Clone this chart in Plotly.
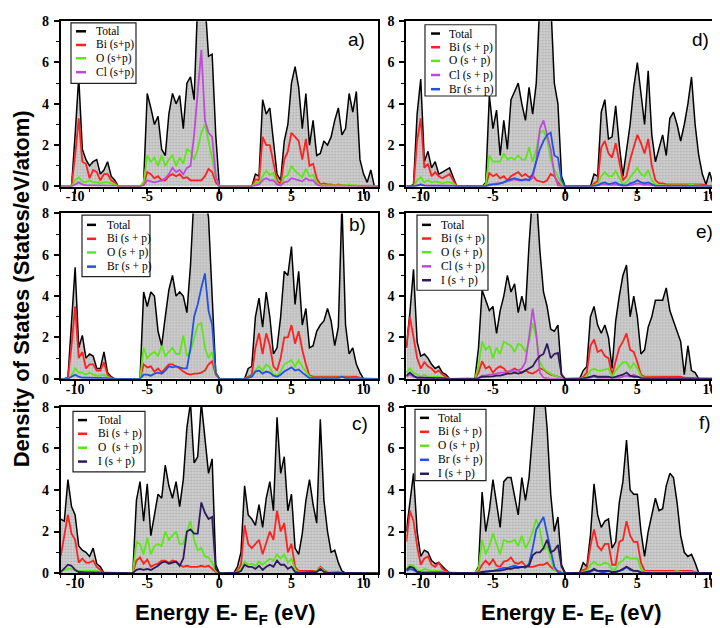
import plotly.graph_objects as go

# ---------------- data (energy grid -11 .. 11 eV, step 0.25) ----------------
N = 89
energy = [-11 + 0.25 * i for i in range(N)]

# each line = one eV: values at k, k+0.25, k+0.5, k+0.75 ; last value is E = 11
# ---- a) BiOCl
a_total = [0, 0, 0, 0,  2.5, 5.3, 1.8, 1.3,  1.0, 1.2, 1.3, 0.6,  0.8, 1.2, 0.5, 0.3,
           0, 0, 0, 0,  0, 0, 0, 0.2,  4.5, 3.8, 3.0, 3.4,  1.8, 1.5, 3.5, 4.5,
           4.0, 4.4, 2.8, 5.0,  5.3, 4.2, 9, 10,  9, 6.3, 6.4, 2.5,  0, 0, 0, 0,
           0, 0, 0, 0,  0, 0, 0.6, 0.5,  4.2, 3.5, 3.8, 2.3,  0.6, 0.3, 2.2, 3.0,
           5.0, 5.8, 4.8, 2.8,  4.5, 2.0, 3.2, 1.5,  1.6, 2.2, 2.0, 2.4,  3.2, 3.8, 2.5, 2.8,
           4.5, 3.6, 4.6, 1.3,  0.6, 0.2, 0.8, 0,  0]
a_bi = [0, 0, 0, 0,  1.5, 3.3, 1.2, 1.1,  0.4, 0.8, 0.7, 0.3,  0.6, 0.6, 0.3, 0.2,
        0, 0, 0, 0,  0, 0, 0, 0.1,  0.7, 0.6, 0.4, 0.5,  0.3, 0.3, 0.5, 0.6,
        0.5, 0.6, 0.4, 0.45,  0.3, 0.3, 0.3, 0.3,  0.5, 0.85, 0.7, 0.2,  0, 0, 0, 0,
        0, 0, 0, 0,  0, 0, 0.35, 0.3,  2.4, 2.0, 2.0, 1.2,  0.3, 0.1, 1.3, 1.7,
        2.6, 2.4, 2.2, 1.3,  2.3, 1.0, 1.1, 0.4,  0.1, 0.15, 0.1, 0.1,  0.05, 0.1, 0.05, 0.05,
        0.05, 0.05, 0.05, 0.02,  0, 0, 0, 0,  0]
a_o = [0, 0, 0, 0,  0.3, 0.45, 0.25, 0.2,  0.3, 0.2, 0.2, 0.15,  0.2, 0.2, 0.15, 0.1,
       0, 0, 0, 0,  0, 0, 0, 0.2,  1.5, 1.2, 1.4, 1.0,  1.5, 1.0, 1.3, 1.5,
       1.0, 1.4, 1.1, 1.8,  1.7, 1.3, 1.8, 2.6,  3.0, 2.2, 1.4, 0.5,  0, 0, 0, 0,
       0, 0, 0, 0,  0, 0, 0.15, 0.2,  0.5, 0.75, 0.55, 0.65,  0.15, 0.05, 0.45, 0.55,
       1.0, 0.75, 0.6, 0.45,  0.85, 0.5, 0.55, 0.2,  0.05, 0.05, 0.05, 0.05,  0.05, 0.05, 0.05, 0.05,
       0.1, 0.05, 0.05, 0.02,  0, 0, 0, 0,  0]
a_cl = [0, 0, 0, 0,  0.1, 0.2, 0.1, 0.05,  0.05, 0.05, 0.05, 0.05,  0.05, 0.05, 0.05, 0.03,
        0, 0, 0, 0,  0, 0, 0, 0.05,  0.3, 0.25, 0.2, 0.25,  0.3, 0.4, 0.6, 0.9,
        0.7, 0.8, 0.6, 0.9,  1.0, 2.5, 4.6, 6.6,  3.2, 2.6, 2.4, 0.5,  0, 0, 0, 0,
        0, 0, 0, 0,  0, 0, 0.05, 0.1,  0.3, 0.4, 0.3, 0.3,  0.1, 0.05, 0.2, 0.25,
        0.4, 0.35, 0.3, 0.25,  0.4, 0.3, 0.3, 0.1,  0.02, 0.02, 0.02, 0.02,  0.02, 0.02, 0.02, 0.02,
        0.02, 0.02, 0.02, 0.02,  0, 0, 0, 0,  0]

# ---- b) BiOBr
b_total = [0, 0, 0.05, 2.5,  5.4, 1.5, 2.1, 1.0,  1.2, 1.1, 0.5, 0.5,  1.3, 0.3, 0.1, 0,
           0, 0, 0, 0,  0, 0, 0, 4.2,  3.5, 4.2, 4.0, 2.3,  1.6, 3.0, 4.3, 5.0,
           4.0, 4.2, 4.0, 3.2,  5.5, 9, 10, 10,  9, 7.8, 4.0, 0.3,  0, 0, 0, 0,
           0, 0, 0, 0,  0.5, 0.6, 3.0, 3.9,  2.5, 4.2, 3.0, 1.2,  1.5, 3.0, 5.2, 5.0,
           6.4, 3.6, 5.2, 2.6,  3.4, 1.5, 1.6, 2.3,  2.6, 2.8, 3.4, 2.8,  1.6, 2.5, 8.5, 2.6,
           1.2, 1.5, 0.7, 0.3,  0, 0, 0, 0,  0]
b_bi = [0, 0, 0.05, 1.6,  3.5, 1.0, 1.3, 0.5,  0.7, 0.7, 0.4, 0.4,  0.8, 0.2, 0.05, 0,
        0, 0, 0, 0,  0, 0, 0, 0.7,  0.55, 0.6, 0.35, 0.5,  0.3, 0.5, 0.7, 0.7,
        0.6, 0.5, 0.35, 0.25,  0.2, 0.25, 0.25, 0.3,  0.4, 0.7, 0.85, 0.2,  0, 0, 0, 0,
        0, 0, 0, 0,  0.1, 0.2, 1.5, 2.2,  1.2, 2.2, 1.6, 0.6,  0.4, 1.0, 2.0, 2.0,
        2.6, 1.7, 2.3, 1.4,  0.7, 0.15, 0.1, 0.1,  0.1, 0.1, 0.1, 0.1,  0.1, 0.1, 0.1, 0.1,
        0.1, 0.1, 0.1, 0.05,  0, 0, 0, 0,  0]
b_o = [0, 0, 0, 0.15,  0.5, 0.3, 0.3, 0.2,  0.3, 0.2, 0.15, 0.15,  0.2, 0.1, 0, 0,
       0, 0, 0, 0,  0, 0, 0, 1.5,  1.0, 1.2, 1.3, 1.1,  1.6, 1.1, 1.3, 1.5,
       1.2, 1.2, 2.1, 1.1,  1.3, 2.0, 2.6, 2.7,  1.5, 1.0, 1.3, 0.3,  0, 0, 0, 0,
       0, 0, 0, 0,  0.05, 0.1, 0.4, 0.6,  0.4, 0.7, 0.55, 0.2,  0.15, 0.35, 0.7, 0.8,
       0.9, 0.6, 0.9, 0.6,  0.35, 0.1, 0.05, 0.05,  0.05, 0.05, 0.05, 0.05,  0.05, 0.05, 0.1, 0.05,
       0.05, 0.05, 0.05, 0.02,  0, 0, 0, 0,  0]
b_br = [0, 0, 0, 0.1,  0.2, 0.1, 0.05, 0.05,  0.05, 0.05, 0.05, 0.05,  0.05, 0.03, 0, 0,
        0, 0, 0, 0,  0, 0, 0, 0.2,  0.2, 0.15, 0.25, 0.3,  0.25, 0.4, 0.6, 0.55,
        0.6, 0.55, 0.5, 0.5,  1.5, 3.0, 3.6, 4.4,  5.1, 3.3, 2.6, 0.3,  0, 0, 0, 0,
        0, 0, 0, 0,  0.05, 0.1, 0.35, 0.4,  0.25, 0.35, 0.3, 0.15,  0.1, 0.2, 0.35, 0.45,
        0.55, 0.4, 0.45, 0.3,  0.15, 0.03, 0.03, 0.03,  0.03, 0.03, 0.03, 0.03,  0.03, 0.03, 0.1, 0.03,
        0.03, 0.03, 0.03, 0.03,  0, 0, 0, 0,  0]

# ---- c) BiOI
c_total = [2.6, 2.5, 4.5, 3.2,  2.8, 1.3, 1.1, 1.0,  0.8, 1.2, 0.45, 0.3,  0, 0, 0, 0,
           0, 0, 0, 0,  0, 3.5, 4.4, 2.5,  4.3, 1.8, 2.8, 3.8,  3.6, 5.2, 4.2, 3.6,
           4.4, 3.2, 4.5, 7.0,  8.2, 5.3, 5.6, 8.2,  6.5, 4.8, 5.5, 0.4,  0, 0, 0, 0,
           0, 0.3, 1.0, 4.2,  2.8, 2.6, 2.3, 3.3,  2.2, 3.6, 4.4, 3.0,  7.5, 4.8, 5.6, 3.0,
           3.8, 1.2, 0.9, 1.9,  3.5, 4.5, 3.3, 2.4,  7.4, 3.5, 2.0, 1.0,  1.1, 0.5, 0.1, 0,
           0, 0, 0, 0,  0, 0, 0, 0,  0]
c_bi = [0.8, 1.9, 2.8, 1.9,  1.6, 0.5, 0.7, 0.5,  0.5, 0.6, 0.3, 0.15,  0, 0, 0, 0,
        0, 0, 0, 0,  0, 0.6, 0.75, 0.45,  0.65, 0.3, 0.4, 0.45,  0.6, 0.6, 0.5, 0.6,
        0.55, 0.4, 0.3, 0.35,  0.3, 0.3, 0.3, 0.35,  0.3, 0.35, 0.2, 0.05,  0, 0, 0, 0,
        0, 0.1, 0.4, 2.3,  1.4, 1.2, 1.4, 1.6,  0.9, 1.5, 2.0, 1.6,  3.0, 2.0, 2.4, 1.0,
        1.4, 0.3, 0.1, 0.1,  0.1, 0.1, 0.1, 0.1,  0.3, 0.15, 0.05, 0.05,  0.05, 0.05, 0, 0,
        0, 0, 0, 0,  0, 0, 0, 0,  0]
c_o = [0.1, 0.15, 0.2, 0.2,  0.15, 0.1, 0.1, 0.1,  0.1, 0.1, 0.1, 0.05,  0, 0, 0, 0,
       0, 0, 0, 0,  0, 1.5, 1.4, 0.9,  1.7, 0.9, 1.3, 1.4,  1.3, 2.0, 1.6, 1.8,
       2.0, 1.4, 1.4, 2.0,  2.5, 1.6, 1.1, 1.2,  0.8, 0.75, 0.5, 0.1,  0, 0, 0, 0,
       0, 0.05, 0.2, 0.55,  0.4, 0.45, 0.35, 0.55,  0.4, 0.55, 0.7, 0.6,  0.9, 0.7, 0.9, 0.5,
       0.7, 0.15, 0.05, 0.05,  0.05, 0.05, 0.05, 0.1,  0.25, 0.1, 0.05, 0.05,  0.05, 0.02, 0, 0,
       0, 0, 0, 0,  0, 0, 0, 0,  0]
c_i = [0.05, 0.25, 0.4, 0.35,  0.15, 0.05, 0.03, 0.03,  0.03, 0.03, 0.03, 0.02,  0, 0, 0, 0,
       0, 0, 0, 0,  0, 0.15, 0.2, 0.15,  0.2, 0.15, 0.25, 0.35,  0.5, 0.55, 0.45, 0.5,
       0.55, 0.35, 0.7, 2.0,  2.1, 1.9, 1.9, 3.4,  2.9, 2.6, 2.7, 0.2,  0, 0, 0, 0,
       0, 0.02, 0.1, 0.4,  0.3, 0.3, 0.2, 0.35,  0.15, 0.3, 0.4, 0.3,  0.6, 0.4, 0.4, 0.2,
       0.3, 0.05, 0.02, 0.02,  0.02, 0.02, 0.02, 0.05,  0.2, 0.05, 0.02, 0.02,  0.02, 0, 0, 0,
       0, 0, 0, 0,  0, 0, 0, 0,  0]

# ---- d) BiOCl/BiOBr
d_total = [0, 0, 0.1, 3.5,  5.2, 1.2, 1.7, 0.9,  1.2, 0.6, 0.7, 0.8,  0.9, 0.45, 0, 0,
           0, 0, 0, 0,  0, 0, 0.2, 4.4,  2.8, 3.7, 1.5, 3.2,  1.8, 4.2, 4.6, 5.0,
           4.0, 3.2, 4.8, 3.5,  5.0, 9, 10, 10,  9, 5.0, 4.0, 0.5,  0, 0, 0, 0,
           0, 0, 0, 0,  0.6, 0.5, 3.6, 4.2,  2.3, 2.4, 3.9, 2.0,  0.5, 1.7, 3.0, 4.8,
           6.0, 4.5, 3.0, 5.6,  2.5, 1.2, 1.8, 2.5,  1.5, 3.3, 3.6, 3.0,  2.2, 3.0, 4.0, 5.3,
           3.0, 1.5, 0.6, 0.1,  0.7, 0.1, 0, 0,  0]
d_bi = [0, 0, 0.05, 2.2,  3.3, 0.9, 1.1, 0.5,  0.7, 0.5, 0.4, 0.5,  0.6, 0.3, 0, 0,
        0, 0, 0, 0,  0, 0, 0.05, 0.65,  0.5, 0.6, 0.4, 0.5,  0.3, 0.5, 0.6, 0.7,
        0.5, 0.6, 0.45, 0.55,  0.3, 0.25, 0.2, 0.3,  0.6, 0.5, 0.2, 0.05,  0, 0, 0, 0,
        0, 0, 0, 0,  0.15, 0.25, 1.9, 2.2,  1.6, 1.4, 2.1, 1.2,  0.3, 0.5, 1.3, 1.9,
        2.5, 2.1, 1.6, 2.3,  1.0, 0.3, 0.15, 0.15,  0.1, 0.1, 0.1, 0.1,  0.1, 0.1, 0.1, 0.1,
        0.1, 0.1, 0.1, 0.05,  0, 0, 0, 0,  0]
d_o = [0, 0, 0, 0.3,  0.45, 0.2, 0.3, 0.2,  0.25, 0.2, 0.15, 0.2,  0.2, 0.15, 0, 0,
       0, 0, 0, 0,  0, 0, 0.1, 1.5,  1.2, 1.2, 1.2, 1.6,  1.3, 1.4, 1.3, 1.5,
       1.3, 1.3, 1.9, 1.2,  1.8, 2.6, 2.7, 2.3,  1.3, 0.8, 0.5, 0.1,  0, 0, 0, 0,
       0, 0, 0, 0,  0.05, 0.1, 0.5, 0.7,  0.5, 0.5, 0.75, 0.4,  0.1, 0.2, 0.45, 0.7,
       0.9, 0.6, 0.5, 0.8,  0.3, 0.1, 0.05, 0.05,  0.05, 0.05, 0.05, 0.05,  0.05, 0.05, 0.05, 0.1,
       0.05, 0.05, 0.02, 0.02,  0, 0, 0, 0,  0]
d_cl = [0, 0, 0, 0.05,  0.1, 0.05, 0.05, 0.05,  0.05, 0.05, 0.05, 0.05,  0.05, 0.03, 0, 0,
        0, 0, 0, 0,  0, 0, 0, 0.05,  0.1, 0.15, 0.15, 0.2,  0.25, 0.3, 0.35, 0.3,
        0.3, 0.35, 0.3, 0.4,  1.3, 2.8, 3.2, 2.5,  1.8, 0.6, 0.05, 0,  0, 0, 0, 0,
        0, 0, 0, 0,  0.02, 0.05, 0.1, 0.1,  0.08, 0.08, 0.1, 0.05,  0.02, 0.02, 0.05, 0.1,
        0.15, 0.1, 0.08, 0.1,  0.05, 0.02, 0.02, 0.02,  0.02, 0.02, 0.02, 0.02,  0.02, 0.02, 0.02, 0.02,
        0.02, 0.02, 0.02, 0.02,  0, 0, 0, 0,  0]
d_br = [0, 0, 0, 0.03,  0.1, 0.03, 0.03, 0.03,  0.03, 0.03, 0.03, 0.03,  0.03, 0.03, 0, 0,
        0, 0, 0, 0,  0, 0, 0, 0.1,  0.1, 0.1, 0.15, 0.2,  0.3, 0.35, 0.4, 0.35,
        0.3, 0.35, 0.3, 0.6,  1.2, 1.8, 2.2, 2.5,  2.6, 1.5, 1.4, 0.3,  0, 0, 0, 0,
        0, 0, 0, 0,  0.03, 0.05, 0.15, 0.2,  0.12, 0.15, 0.2, 0.1,  0.05, 0.05, 0.15, 0.2,
        0.3, 0.2, 0.15, 0.2,  0.1, 0.03, 0.03, 0.03,  0.03, 0.03, 0.03, 0.03,  0.03, 0.03, 0.03, 0.03,
        0.03, 0.03, 0.03, 0.03,  0, 0, 0, 0,  0]

# ---- e) BiOCl/BiOI
e_total = [1.5, 3.2, 5.3, 1.8,  1.1, 1.2, 1.0, 0.7,  0.5, 0.6, 0.3, 0.2,  0, 0, 0, 0,
           0, 0, 0, 0,  1.5, 4.3, 3.8, 3.3,  3.5, 2.2, 3.3, 4.0,  5.0, 4.2, 4.6, 3.2,
           4.0, 3.3, 6.5, 9,  9, 6.2, 4.2, 3.5,  2.4, 2.3, 2.6, 0.2,  0, 0, 0, 0,
           0, 0.4, 0.6, 3.0,  3.5, 2.6, 2.2, 2.6,  2.0, 0.5, 2.8, 4.0,  5.0, 5.5, 3.0, 4.0,
           3.0, 1.2, 1.4, 2.5,  3.0, 3.8, 3.8, 3.8,  4.4, 3.3, 2.8, 2.3,  1.8, 0.2, 1.6, 0.4,
           0.3, 0, 0, 0,  0, 0, 0, 0,  0]
e_bi = [1.5, 3.0, 2.0, 1.0,  0.5, 0.8, 0.6, 0.5,  0.3, 0.4, 0.2, 0.1,  0, 0, 0, 0,
        0, 0, 0, 0,  0.3, 0.85, 0.5, 0.6,  0.3, 0.5, 0.6, 0.5,  0.3, 0.4, 0.5, 0.4,
        0.3, 0.4, 0.3, 0.25,  0.35, 0.5, 0.45, 0.3,  0.2, 0.15, 0.1, 0.02,  0, 0, 0, 0,
        0, 0.1, 0.3, 1.6,  1.9, 1.3, 1.4, 1.1,  1.0, 0.2, 0.8, 1.5,  1.8, 2.2, 1.4, 1.3,
        0.8, 0.2, 0.1, 0.1,  0.1, 0.1, 0.1, 0.1,  0.1, 0.1, 0.1, 0.1,  0.1, 0.05, 0.05, 0.02,
        0, 0, 0, 0,  0, 0, 0, 0,  0]
e_o = [0.3, 0.5, 0.3, 0.2,  0.1, 0.2, 0.1, 0.1,  0.1, 0.1, 0.05, 0.05,  0, 0, 0, 0,
       0, 0, 0, 0,  0.6, 1.8, 1.4, 1.6,  1.0, 1.5, 1.2, 1.8,  1.7, 1.6, 1.3, 1.7,
       1.6, 1.3, 1.8, 2.7,  2.0, 0.8, 0.5, 0.35,  0.25, 0.15, 0.1, 0.02,  0, 0, 0, 0,
       0, 0.05, 0.1, 0.4,  0.5, 0.4, 0.4, 0.45,  0.5, 0.1, 0.4, 0.6,  0.8, 0.8, 0.5, 0.75,
       0.5, 0.1, 0.05, 0.05,  0.05, 0.05, 0.05, 0.05,  0.05, 0.05, 0.05, 0.05,  0.05, 0.02, 0.02, 0.02,
       0, 0, 0, 0,  0, 0, 0, 0,  0]
e_cl = [0.1, 0.2, 0.1, 0.05,  0.05, 0.05, 0.05, 0.05,  0.05, 0.05, 0.03, 0.03,  0, 0, 0, 0,
        0, 0, 0, 0,  0.05, 0.15, 0.15, 0.2,  0.2, 0.25, 0.3, 0.3,  0.35, 0.4, 0.35, 0.4,
        0.5, 0.8, 2.0, 3.4,  2.2, 0.3, 0.05, 0.02,  0, 0, 0, 0,  0, 0, 0, 0,
        0, 0.02, 0.05, 0.05,  0.1, 0.05, 0.05, 0.05,  0.05, 0.02, 0.05, 0.05,  0.1, 0.15, 0.1, 0.2,
        0.1, 0.05, 0.02, 0.02,  0.02, 0.02, 0.02, 0.02,  0.02, 0.02, 0.02, 0.02,  0.02, 0, 0, 0,
        0, 0, 0, 0,  0, 0, 0, 0,  0]
e_i = [0.15, 0.3, 0.15, 0.05,  0.05, 0.05, 0.05, 0.05,  0.05, 0.03, 0.03, 0.02,  0, 0, 0, 0,
       0, 0, 0, 0,  0.02, 0.1, 0.1, 0.1,  0.12, 0.15, 0.15, 0.2,  0.25, 0.25, 0.3, 0.25,
       0.3, 0.4, 0.5, 0.6,  0.9, 1.1, 1.2, 1.7,  1.0, 1.2, 1.25, 0.2,  0, 0, 0, 0,
       0, 0.02, 0.05, 0.1,  0.15, 0.1, 0.1, 0.1,  0.1, 0.05, 0.1, 0.15,  0.2, 0.3, 0.15, 0.1,
       0.1, 0.03, 0.03, 0.03,  0.03, 0.03, 0.03, 0.03,  0.03, 0.03, 0.03, 0.03,  0.03, 0.02, 0, 0,
       0, 0, 0, 0,  0, 0, 0, 0,  0]

# ---- f) BiOBr/BiOI
f_total = [2.0, 3.5, 4.8, 2.0,  0.8, 1.1, 1.0, 0.6,  0.45, 0.5, 0.3, 0.15,  0, 0, 0, 0,
           0, 0, 0, 0,  0.3, 3.9, 2.0, 3.0,  4.5, 3.3, 2.2, 4.4,  4.6, 4.6, 3.6, 2.8,
           4.6, 3.5, 4.6, 7.0,  9, 9, 9, 7.0,  3.8, 2.0, 2.7, 0.4,  0, 0, 0, 0,
           0, 0.5, 0.3, 1.8,  4.3, 2.8, 2.2, 2.5,  2.6, 1.2, 1.5, 3.4,  4.4, 6.4, 4.0, 3.8,
           3.8, 2.0, 0.8, 2.0,  2.8, 3.6, 3.0, 3.1,  4.2, 4.8, 4.6, 3.4,  1.8, 1.0, 0.8, 0.9,
           0.5, 0, 0, 0,  0, 0, 0, 0,  0]
f_bi = [1.5, 3.0, 2.5, 1.3,  0.4, 0.7, 0.8, 0.4,  0.3, 0.5, 0.2, 0.1,  0, 0, 0, 0,
        0, 0, 0, 0,  0.1, 0.4, 0.6, 0.4,  0.65, 0.35, 0.3, 0.55,  0.6, 0.75, 0.5, 0.45,
        0.55, 0.35, 0.3, 0.3,  0.35, 0.4, 0.4, 0.5,  0.3, 0.15, 0.1, 0.02,  0, 0, 0, 0,
        0, 0.15, 0.2, 1.3,  2.1, 1.3, 1.1, 1.4,  1.4, 0.4, 0.4, 1.5,  1.6, 2.5, 1.8, 1.5,
        1.5, 0.5, 0.1, 0.1,  0.1, 0.1, 0.1, 0.1,  0.1, 0.1, 0.1, 0.1,  0.1, 0.1, 0.1, 0.1,
        0.05, 0, 0, 0,  0, 0, 0, 0,  0]
f_o = [0.2, 0.4, 0.35, 0.15,  0.1, 0.2, 0.15, 0.1,  0.1, 0.1, 0.05, 0.05,  0, 0, 0, 0,
       0, 0, 0, 0,  0.2, 1.6, 0.9, 1.3,  1.9, 1.4, 0.9, 1.6,  1.5, 1.5, 1.6, 1.3,
       1.8, 1.2, 1.5, 2.0,  2.6, 2.1, 1.1, 1.3,  0.7, 0.15, 0.05, 0,  0, 0, 0, 0,
       0, 0.05, 0.1, 0.4,  0.55, 0.4, 0.4, 0.5,  0.45, 0.15, 0.2, 0.5,  0.6, 0.8, 0.7, 0.7,
       0.7, 0.2, 0.05, 0.05,  0.05, 0.05, 0.05, 0.05,  0.05, 0.05, 0.05, 0.1,  0.05, 0.05, 0.05, 0.05,
       0.02, 0, 0, 0,  0, 0, 0, 0,  0]
f_br = [0.1, 0.2, 0.15, 0.05,  0.03, 0.03, 0.03, 0.03,  0.03, 0.03, 0.02, 0.02,  0, 0, 0, 0,
        0, 0, 0, 0,  0, 0.05, 0.08, 0.1,  0.1, 0.15, 0.2, 0.25,  0.25, 0.3, 0.35, 0.3,
        0.3, 0.25, 0.45, 1.2,  2.1, 2.4, 2.7, 1.9,  1.1, 0.3, 0.05, 0,  0, 0, 0, 0,
        0, 0.02, 0.02, 0.05,  0.15, 0.1, 0.05, 0.05,  0.1, 0.03, 0.05, 0.1,  0.15, 0.3, 0.15, 0.1,
        0.1, 0.03, 0.02, 0.02,  0.02, 0.02, 0.02, 0.02,  0.02, 0.02, 0.02, 0.02,  0.02, 0.02, 0.02, 0.02,
        0.02, 0, 0, 0,  0, 0, 0, 0,  0]
f_i = [0.15, 0.3, 0.25, 0.05,  0.03, 0.03, 0.03, 0.03,  0.03, 0.03, 0.02, 0.02,  0, 0, 0, 0,
       0, 0, 0, 0,  0, 0.05, 0.05, 0.08,  0.1, 0.1, 0.12, 0.15,  0.2, 0.2, 0.25, 0.25,
       0.3, 0.3, 0.35, 0.85,  1.0, 1.0, 1.2, 1.6,  1.0, 1.1, 1.35, 0.3,  0, 0, 0, 0,
       0, 0.02, 0.05, 0.1,  0.2, 0.1, 0.1, 0.1,  0.1, 0.05, 0.05, 0.1,  0.2, 0.3, 0.2, 0.1,
       0.1, 0.03, 0.02, 0.02,  0.02, 0.02, 0.02, 0.02,  0.02, 0.02, 0.02, 0.02,  0.02, 0.02, 0.02, 0.02,
       0.02, 0, 0, 0,  0, 0, 0, 0,  0]

x_tickvals = [-10, -5, 0, 5, 10]
x_ticktext = ['-10', '-5', '0', '5', '10']
y_tickvals = [0, 2, 4, 6, 8]
y_ticktext = ['0', '2', '4', '6', '8']

# ---------------- styles ----------------
COL = {'Total': 'black', 'Bi': '#ff2020', 'O': '#5ee61a', 'Cl': '#c04ad8',
       'Br': '#2352e0', 'I': '#2d1b5e'}
W, H = 720, 628


def px(xp):
    return xp / W


def py(yp):
    return 1 - yp / H


LX = [px(52.7), px(370)]
RX = [px(398.3), px(716)]
TOP = [py(175.7), py(6.3)]
MID = [py(372.7), py(203.3)]
BOT = [py(571.7), py(401.5)]

panels = [
    dict(lab='a)', ax='', dom=(LX, TOP),
         series=[('Total', a_total), ('Bi', a_bi), ('O', a_o), ('Cl', a_cl)],
         names=['Total', 'Bi (s+p)', 'O (s+p)', 'Cl (s+p)'],
         box=(63, 8, 128, 70), rows=[16.7, 30.7, 44.3, 58.6], lx=(68, 78), tx=86, labpos=(359, 25)),
    dict(lab='b)', ax='2', dom=(LX, MID),
         series=[('Total', b_total), ('Bi', b_bi), ('O', b_o), ('Br', b_br)],
         names=['Total', 'Bi (s + p)', 'O (s + p)', 'Br (s + p)'],
         box=(74, 205, 142, 268), rows=[215, 229.3, 243.3, 257.8], lx=(79, 88), tx=96.5, labpos=(360, 215)),
    dict(lab='c)', ax='3', dom=(LX, BOT),
         series=[('Total', c_total), ('Bi', c_bi), ('O', c_o), ('I', c_i)],
         names=['Total', 'Bi (s + p)', 'O  (s + p)', 'I (s + p)'],
         box=(65, 406, 137, 468), rows=[415, 429, 443.3, 457.5], lx=(70, 79), tx=87.5, labpos=(362, 418)),
    dict(lab='d)', ax='4', dom=(RX, TOP),
         series=[('Total', d_total), ('Bi', d_bi), ('O', d_o), ('Cl', d_cl), ('Br', d_br)],
         names=['Total', 'Bi (s + p)', 'O (s + p)', 'Cl (s + p)', 'Br (s + p)'],
         box=(417, 10, 488, 83), rows=[19, 33, 47, 61.5, 76], lx=(423, 432), tx=439, labpos=(703, 25)),
    dict(lab='e)', ax='5', dom=(RX, MID),
         series=[('Total', e_total), ('Bi', e_bi), ('O', e_o), ('Cl', e_cl), ('I', e_i)],
         names=['Total', 'Bi (s + p)', 'O (s + p)', 'Cl (s + p)', 'I (s + p)'],
         box=(409, 205, 480, 282), rows=[215, 229, 243, 257.5, 271.7], lx=(414, 423), tx=430.5, labpos=(707, 222)),
    dict(lab='f)', ax='6', dom=(RX, BOT),
         series=[('Total', f_total), ('Bi', f_bi), ('O', f_o), ('Br', f_br), ('I', f_i)],
         names=['Total', 'Bi (s + p)', 'O (s + p)', 'Br (s + p)', 'I (s + p)'],
         box=(407, 404, 478, 477), rows=[412.7, 427, 441.3, 455.7, 470], lx=(412, 421), tx=428.3, labpos=(705, 417)),
]

for p in panels:
    for _, v in p['series']:
        assert len(v) == N, (p['lab'], len(v))

fig = go.Figure()
shapes, annots = [], []
tickfont = dict(family='Liberation Serif, Times New Roman, serif', size=14, color='black', weight='bold')

for p in panels:
    xa, ya = 'x' + p['ax'], 'y' + p['ax']
    for key, vals in p['series']:
        if key == 'Total':
            fig.add_trace(go.Scatter(
                x=energy, y=vals, mode='lines', name='Total', showlegend=False,
                line=dict(color='black', width=1.5), fill='tozeroy', fillcolor='#c6c6c6',
                fillpattern=dict(shape='.', bgcolor='#d0d0d0', fgcolor='#8c8c8c', size=3, solidity=0.35),
                xaxis=xa, yaxis=ya))
        else:
            fig.add_trace(go.Scatter(
                x=energy, y=vals, mode='lines', name=key + ' (s+p)', showlegend=False,
                line=dict(color=COL[key], width=1.8), xaxis=xa, yaxis=ya))

    axn = p['ax']
    xdom, ydom = p['dom']
    fig.layout['xaxis' + axn] = dict(
        domain=xdom, anchor=ya, range=[-11, 11], tickvals=x_tickvals, ticktext=x_ticktext,
        ticks='outside', ticklen=5, tickwidth=1.5, tickcolor='black', tickfont=tickfont,
        ticklabelstandoff=-9,
        minor=dict(tickmode='linear', tick0=0, dtick=1, ticks='outside', ticklen=3, tickwidth=1, tickcolor='black'),
        showline=True, linewidth=2, linecolor='black', mirror=True, showgrid=False, zeroline=False)
    fig.layout['yaxis' + axn] = dict(
        domain=ydom, anchor=xa, range=[0, 8], tickvals=y_tickvals, ticktext=y_ticktext,
        ticks='outside', ticklen=5, tickwidth=1.5, tickcolor='black', tickfont=tickfont,
        ticklabelstandoff=2,
        minor=dict(tickmode='linear', tick0=0, dtick=1, ticks='outside', ticklen=3, tickwidth=1, tickcolor='black'),
        showline=True, linewidth=2, linecolor='black', mirror=True, showgrid=False, zeroline=False)

    # legend box (drawn manually to match the compact original legend)
    bx0, by0, bx1, by1 = p['box']
    shapes.append(dict(type='rect', xref='paper', yref='paper', x0=px(bx0), x1=px(bx1), y0=py(by1), y1=py(by0),
                       line=dict(color='#222222', width=1.2), fillcolor='white', layer='above'))
    for (key, _), nm, ry in zip(p['series'], p['names'], p['rows']):
        shapes.append(dict(type='line', xref='paper', yref='paper', x0=px(p['lx'][0]), x1=px(p['lx'][1]),
                           y0=py(ry), y1=py(ry), line=dict(color=COL[key], width=2.5), layer='above'))
        annots.append(dict(text=nm, xref='paper', yref='paper', x=px(p['tx']), y=py(ry), xanchor='left',
                           yanchor='middle', showarrow=False,
                           font=dict(family='Liberation Serif, Times New Roman, serif', size=11.5, color='black')))
    annots.append(dict(text=p['lab'], xref='paper', yref='paper', x=px(p['labpos'][0]), y=py(p['labpos'][1]),
                       xanchor='right', yanchor='middle', showarrow=False,
                       font=dict(family='Liberation Sans, Arial, sans-serif', size=19, color='black')))

title_font = dict(family='Liberation Sans, Arial, sans-serif', size=22, color='black', weight='bold')
annots.append(dict(text='Density of States (States/eV/atom)', xref='paper', yref='paper', x=px(13), y=py(281),
                   textangle=-90, xanchor='center', yanchor='middle', showarrow=False, font=title_font))
for cx in (217, 563):
    annots.append(dict(text='Energy E- E<sub>F</sub> (eV)', xref='paper', yref='paper', x=px(cx), y=py(597),
                       xanchor='center', yanchor='top', showarrow=False, font=title_font))

fig.update_layout(width=W, height=H, margin=dict(l=0, r=0, t=0, b=0), paper_bgcolor='white',
                  plot_bgcolor='white', showlegend=False, shapes=shapes, annotations=annots)

fig.write_html('out.html')
